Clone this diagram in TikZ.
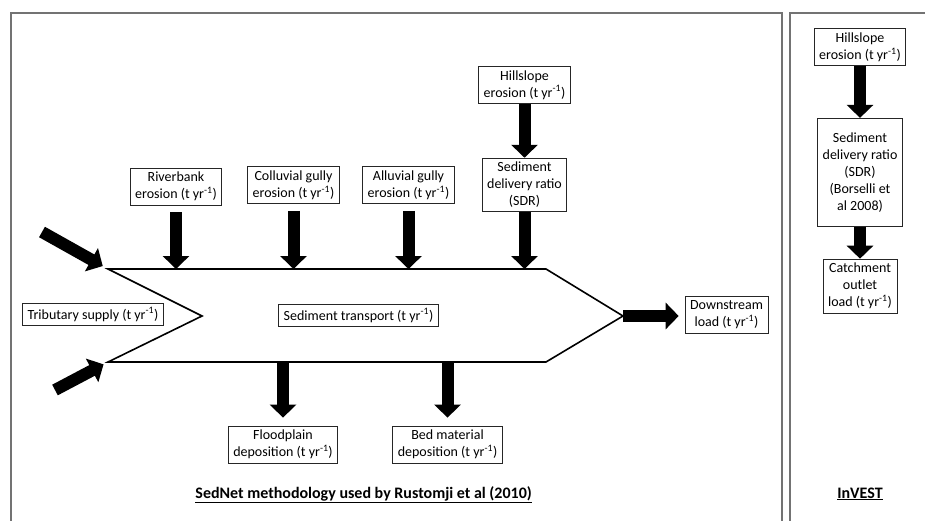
\documentclass[tikz,border=0pt]{standalone}
\usepackage{fontspec}
\setmainfont{Carlito}
\usetikzlibrary{arrows.meta,positioning}
\newcommand*{\tyr}{(t yr\textsuperscript{-1})}

\begin{document}
\begin{tikzpicture}[x=1pt, y=-1pt,
    block_flux/.style ={rectangle, draw=black!85, line width=0.8pt, fill=white,
      font=\fontsize{14}{17}\selectfont, align=center, inner xsep=5pt, inner ysep=4pt},
    block_title/.style ={font=\fontsize{16}{19}\selectfont\bfseries, inner sep=0pt},
    frame_line/.style ={draw=black!55, line width=1.6pt},
    fish_line/.style ={draw=black, line width=1.6pt, line join=miter},
    flow/.style ={draw, line width=12pt, -{Triangle[width=26pt, length=13pt]}}]
    \useasboundingbox (0,0) rectangle (925,521);
    % frames
    \draw[frame_line] (11,521) |- (782,13) -- (782,521);
    \draw[frame_line] (790,521) |- (925,13);
    % fish outline
    \coordinate (ftl) at (108,269);
    \coordinate (ftr) at (546,269);
    \coordinate (ftip) at (623,316);
    \coordinate (fbr) at (546,362);
    \coordinate (fbl) at (108,362);
    \coordinate (fnotch) at (202,316);
    \coordinate (tribup) at (42,232);
    \coordinate (triblow) at (55,390);
    \draw[fish_line] (ftl) -- (ftr) -- (ftip) -- (fbr) -- (fbl) -- (fnotch) -- cycle;
    % row above the fish
    \node [block_flux] (river) at (176,186.5) {Riverbank\\ erosion \tyr};
    \node [block_flux] (colluv) at (293.5,185) {Colluvial gully\\ erosion \tyr};
    \node [block_flux] (alluv) at (408.5,185) {Alluvial gully\\ erosion \tyr};
    \node [block_flux] (sdrL) at (524.5,185) {Sediment\\ delivery ratio\\ (SDR)};
    \node [block_flux] (hillL) [above=54pt of sdrL] {Hillslope\\ erosion \tyr};
    % inside and beside the fish
    \node [block_flux] (trib) at (93,314.5) {Tributary supply \tyr};
    \node [block_flux] (transport) at (358.5,315.5) {Sediment transport \tyr};
    \node [block_flux] (down) at (726.5,315) {Downstream\\ load \tyr};
    % row below the fish
    \node [block_flux] (flood) at (283,444.5) {Floodplain\\ deposition \tyr};
    \node [block_flux] (bed) at (447.5,444.5) {Bed material\\ deposition \tyr};
    % InVEST column
    \node [block_flux] (hillR) at (860,47) {Hillslope\\ erosion \tyr};
    \node [block_flux, minimum height=108pt] (sdrR) [below=52pt of hillR] {Sediment\\ delivery ratio\\ (SDR)\\ (Borselli et\\ al 2008)};
    \node [block_flux] (catch) [below=32pt of sdrR] {Catchment\\ outlet\\ load \tyr};
    % titles
    \node [block_title, anchor=base east] (sednet) at (532,498) {\underline{SedNet methodology used by Rustomji et al (2010)}};
    \node [block_title, anchor=base] (invest) at (860,498) {\underline{InVEST}};
    % connecting nodes with paths
    \begin{scope}[every path/.style=flow]
      \path[shorten <=7pt] (river.south) -- (river.south |- ftl);
      \path[shorten <=7pt] (colluv.south) -- (colluv.south |- ftl);
      \path[shorten <=7pt] (alluv.south) -- (alluv.south |- ftl);
      \path (hillL) -- (sdrL);
      \path (sdrL.south) -- (sdrL.south |- ftl);
      \path[shorten >=6pt] (tribup) -- (ftl);
      \path[shorten >=5pt] (triblow) -- (fbl);
      \path[shorten >=6pt] (ftip) -- (ftip -| down.west);
      \path[shorten >=8pt] (fbl -| flood) -- (flood);
      \path[shorten >=8pt] (fbl -| bed) -- (bed);
      \path (hillR) -- (sdrR);
      \path (sdrR) -- (catch);
    \end{scope}
  \end{tikzpicture}
\end{document}
